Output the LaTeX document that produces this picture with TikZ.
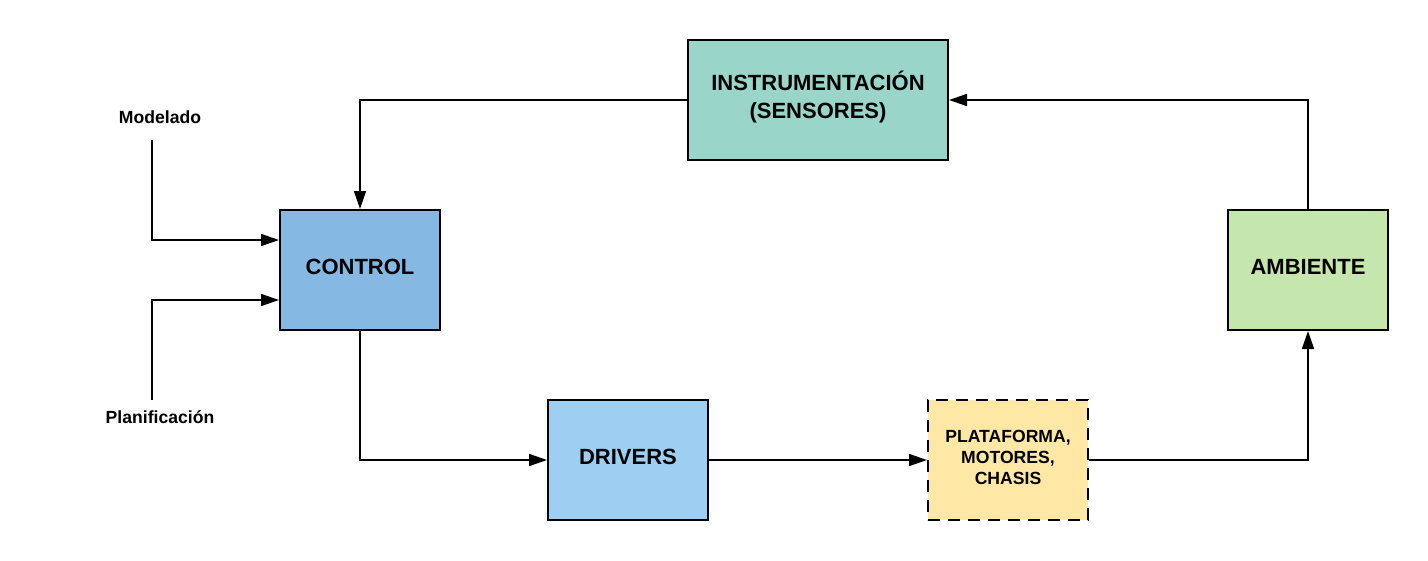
\documentclass[tikz,border=0pt]{standalone}
\usepackage{fontspec}
\setmainfont{Liberation Sans}
\usetikzlibrary{arrows.meta}
\definecolor{cinstr}{HTML}{9AD5C9}
\definecolor{cctrl}{HTML}{85B9E3}
\definecolor{camb}{HTML}{C5E6AD}
\definecolor{cdrv}{HTML}{9DCFF2}
\definecolor{cplat}{HTML}{FFE8A6}
\tikzset{
  blockbox/.style={draw=black, line width=2pt, minimum width=160pt, minimum height=120pt, inner sep=0pt, align=center, font=\fontsize{22}{28}\selectfont\bfseries},
  conn/.style={line width=1.6pt, -{Triangle[length=18pt,width=12pt]}},
  lbl/.style={font=\fontsize{17.6}{21}\selectfont\bfseries, inner sep=0pt}
}
\begin{document}
\begin{tikzpicture}[x=1pt,y=-1pt]
\useasboundingbox (0,0) rectangle (1428,560);
\node[blockbox, fill=cinstr, minimum width=260pt] (instr) at (818,100) {};
\node[font=\fontsize{22}{28}\selectfont\bfseries, align=center] (instrtxt) at (818,97) {INSTRUMENTACIÓN\\(SENSORES)};
\node[blockbox, fill=cctrl] (ctrl) at (360,270) {};
\node[font=\fontsize{22}{28}\selectfont\bfseries] (ctrltxt) at (360,267) {CONTROL};
\node[blockbox, fill=camb] (amb) at (1308,270) {};
\node[font=\fontsize{22}{28}\selectfont\bfseries] (ambtxt) at (1308,267) {AMBIENTE};
\node[blockbox, fill=cdrv] (drv) at (628,460) {};
\node[font=\fontsize{22}{28}\selectfont\bfseries] (drvtxt) at (628,457) {DRIVERS};
\node[blockbox, fill=cplat, dash pattern=on 12pt off 8pt] (plat) at (1008,460) {};
\node[font=\fontsize{17.6}{21}\selectfont\bfseries, align=center] (plattxt) at (1008,457) {PLATAFORMA,\\MOTORES,\\CHASIS};
\node[lbl] (mod) at (160,117) {Modelado};
\node[lbl] (plan) at (160,417) {Planificación};
\coordinate (modend) at (152,140);
\coordinate (planend) at (152,400);
\draw[conn] (instr.west) -| (ctrl.north);
\draw[conn] (amb.north) |- (instr.east);
\draw[conn] (ctrl.south) |- (drv.west);
\draw[conn] (drv.east) -- (plat.west);
\draw[conn] (plat.east) -| (amb.south);
\draw[conn] (modend) |- ([yshift=30pt]ctrl.west);
\draw[conn] (planend) |- ([yshift=-30pt]ctrl.west);
\end{tikzpicture}
\end{document}
